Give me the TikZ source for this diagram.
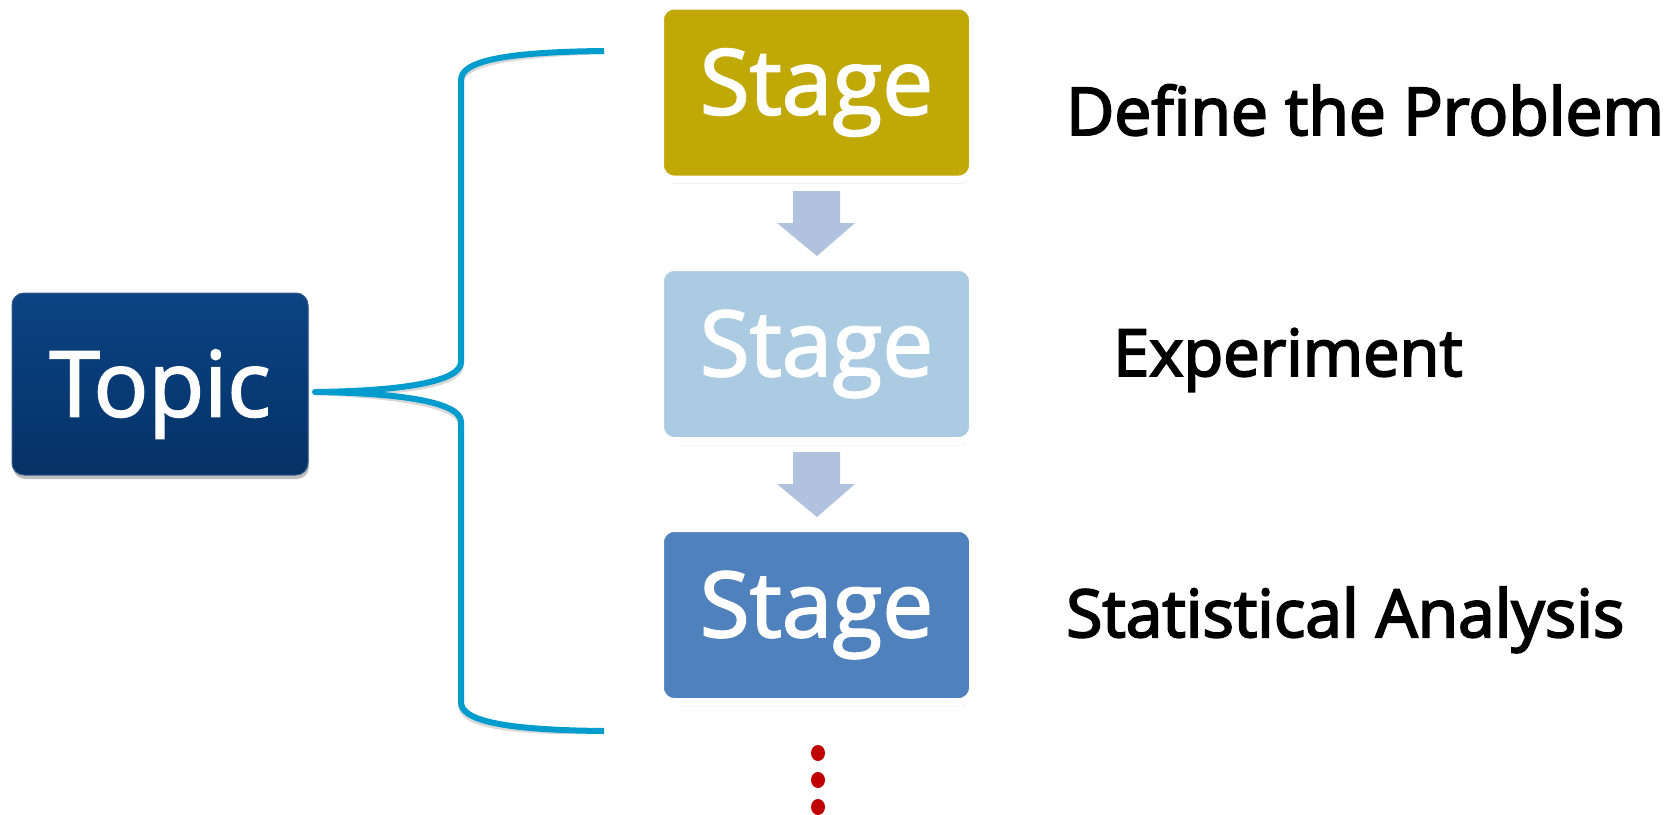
\documentclass[tikz,border=0pt]{standalone}
\usepackage{fontspec}
\setmainfont{Open Sans}
\newfontfamily\descfont{Open Sans}[FakeBold=3]
\newfontfamily\boxfont{Open Sans}[FakeBold=2]
\usetikzlibrary{shadows}
\definecolor{brk}{RGB}{0,156,206}
\definecolor{gold}{RGB}{192,168,6}
\definecolor{lightblue}{RGB}{170,203,226}
\definecolor{midblue}{RGB}{79,129,189}
\definecolor{arrowblue}{RGB}{176,194,221}
\definecolor{topictop}{RGB}{11,67,132}
\definecolor{topicbot}{RGB}{5,50,102}
\definecolor{dotred}{RGB}{192,0,0}
\tikzset{
  stagebox/.style={draw=white, line width=8pt, rounded corners=14pt,
    minimum width=313pt, minimum height=174pt, inner sep=0pt,
    text=white, font=\boxfont\fontsize{91}{100}\selectfont,
    drop shadow={shadow xshift=1pt, shadow yshift=-4pt, fill=black, opacity=0.25}},
  topicbox/.style={rounded corners=12pt, draw=topicbot!80!white, line width=1pt,
    top color=topictop, bottom color=topicbot,
    minimum width=296pt, minimum height=182pt, inner sep=0pt,
    text=white, font=\boxfont\fontsize{91}{100}\selectfont, text height=65pt, text depth=0pt,
    drop shadow={shadow xshift=1pt, shadow yshift=-4pt, fill=black, opacity=0.25}},
  desc/.style={anchor=base west, inner sep=0pt, text=black, font=\descfont\fontsize{66}{70}\selectfont},
  flowarrow/.style={fill=arrowblue, draw=none},
  bracket/.style={draw=brk, line width=6pt, line cap=butt, line join=round},
  bracketshadow/.style={draw=black, opacity=0.15, line width=6pt},
  moredot/.style={fill=dotred, draw=none}
}
\begin{document}
\begin{tikzpicture}[x=1pt, y=-1pt]
\useasboundingbox (0,0) rectangle (1672,814);
% Topic
\node[topicbox] (topic) at (160,384) {Topic\hspace{17pt}};
% Stages
\node[stagebox, fill=gold] (s1) at (816.5,92.5) {Stage};
\node[stagebox, fill=lightblue] (s2) at (816.5,354) {Stage};
\node[stagebox, fill=midblue] (s3) at (816.5,615) {Stage};
% descriptions
\node[desc] (d1) at (1066,135) {Define the Problem};
\node[desc] (d2) at (1113,376) {\fontsize{65}{70}\selectfont Experiment};
\node[desc] (d3) at (1066,637) {Statistical Analysis};
% flow arrows
\path[flowarrow] (793,191) -- (840,191) -- (840,223) -- (855,223) -- (817,256) -- (777,223) -- (793,223) -- cycle;
\path[flowarrow] (793,452) -- (840,452) -- (840,484) -- (855,484) -- (817,517) -- (777,484) -- (793,484) -- cycle;
% bracket
\coordinate (bt) at (604,51);
\coordinate (bm) at (315,392);
\coordinate (bb) at (604,731);
\begin{scope}[yshift=-3pt]
\draw[bracketshadow] (bt) .. controls (500,52) and (461,62) .. (461,80) -- (461,362)
  .. controls (461,382) and (400,391) .. (bm)
  .. controls (400,393) and (461,402) .. (461,422) -- (461,702)
  .. controls (461,720) and (500,730) .. (bb);
\end{scope}
\draw[bracket] (bt) .. controls (500,52) and (461,62) .. (461,80) -- (461,362)
  .. controls (461,382) and (400,391) .. (bm)
  .. controls (400,393) and (461,402) .. (461,422) -- (461,702)
  .. controls (461,720) and (500,730) .. (bb);
% continuation dots
\path[moredot] (818,753) ellipse [x radius=7pt, y radius=8pt];
\path[moredot] (818,780) ellipse [x radius=7pt, y radius=8pt];
\path[moredot] (818,807) ellipse [x radius=7pt, y radius=8pt];
\end{tikzpicture}
\end{document}
